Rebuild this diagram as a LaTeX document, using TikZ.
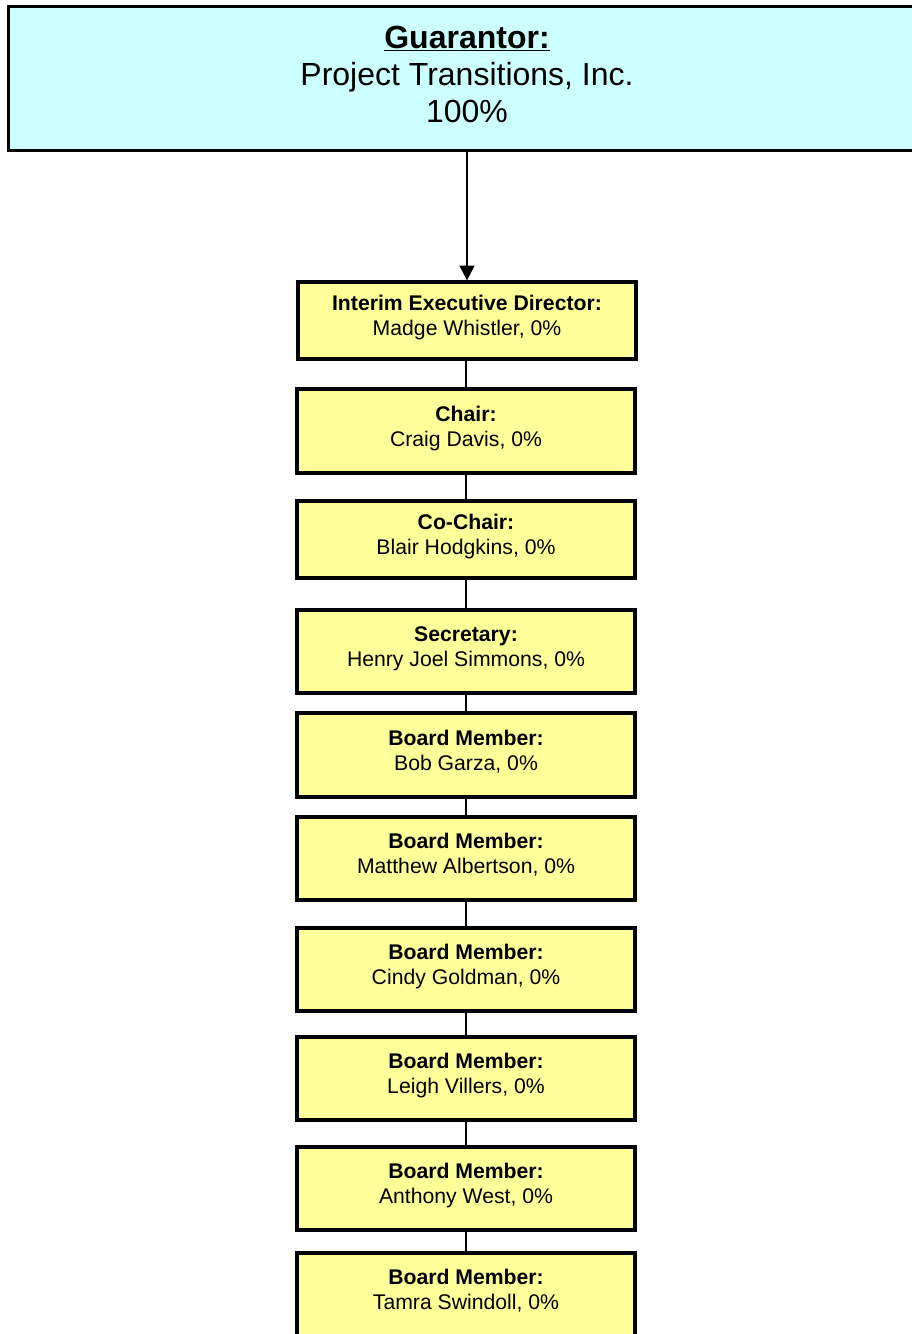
\documentclass[tikz,border=0pt]{standalone}
\usepackage{fontspec}
\setmainfont{Liberation Sans}
\usetikzlibrary{arrows.meta}

\definecolor{guarcyan}{HTML}{CCFFFF}
\definecolor{roleyellow}{HTML}{FFFF99}

\tikzset{
    guarbox/.style = {draw, line width = 2.4pt, fill = guarcyan, minimum width = 688pt,
        minimum height = 108pt, text depth = 6.5pt, align = center, font = \fontsize{24}{27.75}\selectfont},
    rolebox/.style = {draw, line width = 2.4pt, fill = roleyellow, minimum width = 253.5pt,
        text depth = 7.5pt, align = center, font = \fontsize{15.9}{18.75}\selectfont},
    link/.style = {line width = 1pt}
}

\begin{document}
\begin{tikzpicture}[x = 0.75pt, y = -0.75pt]
    \useasboundingbox (0,0) rectangle (912,1334);
    \clip (0,0) rectangle (912,1334);

    \node[guarbox] (guar) at (467, 78.5) {\textbf{\underline{Guarantor:}}\\Project Transitions, Inc.\\100\%};

    \node[rolebox, minimum height = 57.75pt] (ied) at (467, 320.5) {\textbf{Interim Executive Director:}\\Madge Whistler, 0\%};
    \node[rolebox, minimum height = 63pt] (chair) at (466, 431) {\textbf{Chair:}\\Craig Davis, 0\%};
    \node[rolebox, minimum height = 57.75pt] (cochair) at (466, 539.5) {\textbf{Co-Chair:}\\Blair Hodgkins, 0\%};
    \node[rolebox, minimum height = 62.25pt] (secr) at (466, 651.5) {\textbf{Secretary:}\\Henry Joel Simmons, 0\%};
    \node[rolebox, minimum height = 63pt] (garza) at (466, 755) {\textbf{Board Member:}\\Bob Garza, 0\%};
    \node[rolebox, minimum height = 62.25pt] (albertson) at (466, 858.5) {\textbf{Board Member:}\\Matthew Albertson, 0\%};
    \node[rolebox, minimum height = 62.25pt] (goldman) at (466, 969.5) {\textbf{Board Member:}\\Cindy Goldman, 0\%};
    \node[rolebox, minimum height = 62.25pt] (villers) at (466, 1078.5) {\textbf{Board Member:}\\Leigh Villers, 0\%};
    \node[rolebox, minimum height = 62.25pt] (west) at (466, 1188.5) {\textbf{Board Member:}\\Anthony West, 0\%};
    \node[rolebox, minimum height = 62.25pt] (swindoll) at (466, 1294.5) {\textbf{Board Member:}\\Tamra Swindoll, 0\%};

    % ownership arrow
    \draw[line width = 1.4pt, -{Triangle[width = 11pt, length = 11pt]}] (guar.south -| ied.north) -- (ied.north);

    % chain of officers
    \draw[link] (ied.south -| chair.north) -- (chair.north);
    \draw[link] (chair) -- (cochair);
    \draw[link] (cochair) -- (secr);
    \draw[link] (secr) -- (garza);
    \draw[link] (garza) -- (albertson);
    \draw[link] (albertson) -- (goldman);
    \draw[link] (goldman) -- (villers);
    \draw[link] (villers) -- (west);
    \draw[link] (west) -- (swindoll);
\end{tikzpicture}
\end{document}
